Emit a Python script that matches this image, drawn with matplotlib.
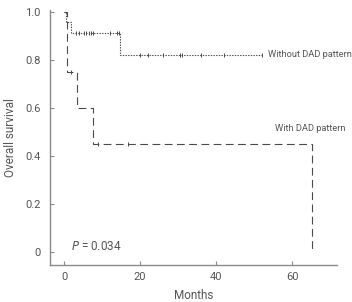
import matplotlib
matplotlib.use('Agg')
import matplotlib.pyplot as plt

plt.rcParams['font.family'] = ['Roboto', 'DejaVu Sans']

# Kaplan-Meier steps (months, survival)
without_t = [0, 0.5, 1.7, 14.8, 52.2]
without_s = [1.0, 0.955, 0.909, 0.818, 0.818]
without_cens_t = [3.2, 4.0, 5.3, 5.9, 6.5, 7.0, 7.6, 12.0, 14.0, 14.5,
                  20.0, 22.2, 26.1, 30.5, 31.1, 36.0, 42.2, 52.2]

with_t = [0, 0.7, 3.3, 7.7, 65.2, 65.2]
with_s = [1.0, 0.75, 0.60, 0.45, 0.45, 0.0]
with_cens_t = [1.8, 9.0, 16.9]

xticks = [0, 20, 40, 60]
yticks = [0, 0.2, 0.4, 0.6, 0.8, 1.0]
ylabels = ['0', '0.2', '0.4', '0.6', '0.8', '1.0']


def surv_at(times, surv, t):
    s = surv[0]
    for ti, si in zip(times, surv):
        if ti <= t:
            s = si
    return s


fig = plt.figure(figsize=(3.52, 3.02), dpi=100)
ax = fig.add_axes([0.142, 0.1225, 0.815, 0.845])

line_col = '#4a4a4a'
axis_col = '#8a8a8a'
text_col = '#555555'

ax.step(without_t, without_s, where='post', color=line_col, lw=0.8,
        linestyle=(0, (1.2, 1.2)))
ax.plot(without_cens_t, [surv_at(without_t, without_s, t) for t in without_cens_t],
        linestyle='none', marker='|', ms=3, mew=0.7, color=line_col)

ax.step(with_t, with_s, where='post', color=line_col, lw=0.8,
        linestyle=(0, (7, 4)))
ax.plot(with_cens_t, [surv_at(with_t, with_s, t) for t in with_cens_t],
        linestyle='none', marker='|', ms=3, mew=0.7, color=line_col)

ax.set_xlim(-3.7, 71.8)
ax.set_ylim(-0.053, 1.007)
ax.set_xticks(xticks)
ax.set_yticks(yticks)
ax.set_yticklabels(ylabels)

for side in ['top', 'right']:
    ax.spines[side].set_visible(False)
for side in ['left', 'bottom']:
    ax.spines[side].set_color(axis_col)
    ax.spines[side].set_linewidth(1.0)

ax.tick_params(direction='in', length=3, width=0.8, color=axis_col,
               labelcolor=text_col, labelsize=8, pad=7)
ax.tick_params(axis='x', pad=5)

ax.set_xlabel('Months', fontsize=8.5, color=text_col, labelpad=5)
ax.set_ylabel('Overall survival', fontsize=8.5, color=text_col, labelpad=6)

ax.text(53.6, 0.82, 'Without DAD pattern', fontsize=6.7, color=text_col,
        va='center', ha='left')
ax.text(55.4, 0.515, 'With DAD pattern', fontsize=6.7, color=text_col,
        va='center', ha='left')
ax.text(1.8, 0.022, '$P$ = 0.034', fontsize=8.5, color=text_col,
        va='center', ha='left')

fig.savefig('out.png', dpi=100)
